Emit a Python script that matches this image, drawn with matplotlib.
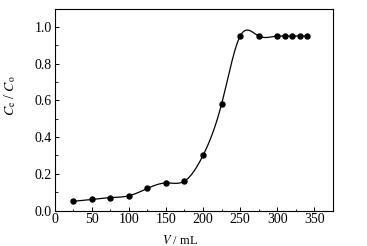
import numpy as np
import matplotlib
matplotlib.use("Agg")
import matplotlib.pyplot as plt
from matplotlib.ticker import MultipleLocator


# breakthrough data
volume = [25, 50, 75, 100, 125, 150, 175, 200, 225, 250, 275, 300, 310, 320, 330, 340]
ratio = [0.05, 0.06, 0.07, 0.08, 0.12, 0.15, 0.16, 0.30, 0.58, 0.95, 0.95, 0.95, 0.95, 0.95, 0.95, 0.95]


# natural cubic spline through the points, used only to draw the smooth line
def naturalSpline(x, y, xs):
    x = np.asarray(x, float)
    y = np.asarray(y, float)
    n = len(x)
    h = np.diff(x)
    A = np.zeros((n, n))
    b = np.zeros(n)
    A[0, 0] = 1
    A[-1, -1] = 1
    for i in range(1, n - 1):
        A[i, i - 1] = h[i - 1]
        A[i, i] = 2 * (h[i - 1] + h[i])
        A[i, i + 1] = h[i]
        b[i] = 6 * ((y[i + 1] - y[i]) / h[i] - (y[i] - y[i - 1]) / h[i - 1])
    M = np.linalg.solve(A, b)
    idx = np.clip(np.searchsorted(x, xs) - 1, 0, n - 2)
    x0 = x[idx]
    x1 = x[idx + 1]
    hh = x1 - x0
    t0 = x1 - xs
    t1 = xs - x0
    return (M[idx] * t0**3 / (6 * hh) + M[idx + 1] * t1**3 / (6 * hh)
            + (y[idx] / hh - M[idx] * hh / 6) * t0
            + (y[idx + 1] / hh - M[idx + 1] * hh / 6) * t1)


plt.rcParams['font.family'] = ['Liberation Serif', 'DejaVu Serif']
plt.rcParams['mathtext.fontset'] = 'stix'

fig = plt.figure(figsize=(3.67, 2.46), dpi=100)
ax = fig.add_axes([54.5 / 367, 1 - 210.5 / 246, (333 - 54.5) / 367, (210.5 - 8.5) / 246])

xs = np.linspace(volume[0], volume[-1], 600)
ax.plot(xs, naturalSpline(volume, ratio, xs), color="black", lw=0.9)
ax.plot(volume, ratio, "o", color="black", ms=3.6)

ax.set_xlim(0, 375)
ax.set_ylim(0, 1.1)
ax.xaxis.set_major_locator(MultipleLocator(50))
ax.xaxis.set_minor_locator(MultipleLocator(25))
ax.yaxis.set_major_locator(MultipleLocator(0.2))
ax.yaxis.set_minor_locator(MultipleLocator(0.1))
ax.yaxis.set_major_formatter(plt.FormatStrFormatter("%.1f"))
ax.tick_params(which="both", direction="in", top=False, right=False, labelsize=10, pad=2)
ax.tick_params(which="major", length=3, width=0.7)
ax.tick_params(which="minor", length=1.8, width=0.6)
for s in ax.spines.values():
    s.set_linewidth(0.8)

ax.set_xlabel(r"$V$ / mL", fontsize=9)
ax.set_ylabel(r"$C_\mathrm{e}$ / $C_\mathrm{o}$", fontsize=10)
ax.xaxis.set_label_coords(0.45, -0.115)
ax.yaxis.set_label_coords(-0.13, 0.57)

fig.savefig("out.png", dpi=100)
